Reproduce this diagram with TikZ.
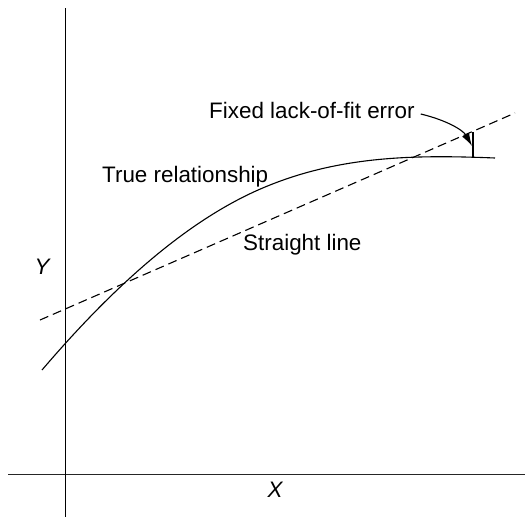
\documentclass[tikz,border=0pt]{standalone}
\usepackage{fontspec}
\setmainfont{Liberation Sans}
\usetikzlibrary{arrows.meta}
\begin{document}
\begin{tikzpicture}[x=1pt,y=-1pt,
  axisline/.style={line width=1.3pt,black!85},
  curveline/.style={line width=1.1pt},
  dashline/.style={line width=1.1pt,dash pattern=on 9pt off 5pt},
  lbl/.style={font=\fontsize{22.4}{25}\selectfont,inner sep=0pt,anchor=base west},
  axlbl/.style={font=\fontsize{22.4}{25}\selectfont\itshape,inner sep=0pt}]
\useasboundingbox (0,0) rectangle (525,517);
% axes
\coordinate (xl) at (8,474.5);
\coordinate (xr) at (525,474.5);
\coordinate (yt) at (65.5,8);
\coordinate (yb) at (65.5,517);
\draw[axisline] (xl) -- (xr);
\draw[line width=1.2pt] (yt) -- (yb);
\node[axlbl] (Xlab) at (275,490) {X};
\node[axlbl] (Ylab) at (42,267) {Y};
% straight line
\coordinate (s1) at (40,320);
\coordinate (s2) at (515,113);
\draw[dashline] (s1) -- (s2);
% true relationship
\coordinate (c0) at (42,370);
\coordinate (c1) at (270,185);
\coordinate (c2) at (495,158);
\draw[curveline] (c0) .. controls (118,281) and (194,215) .. (c1)
  .. controls (345,155) and (420,155) .. (c2);
% error tick
\coordinate (e1) at (473,157);
\coordinate (e2) at (473,131.5);
\draw[curveline] (e1) -- (e2);
% labels
\node[lbl] (true) at (102,182) {True relationship};
\node[lbl] (str) at (243,250) {Straight line};
\node[lbl] (fix) at (209,118) {Fixed lack-of-fit error};
\coordinate (atip) at (472,146);
\draw[curveline,-{Latex[length=13pt,width=8pt]}] ([xshift=6pt,yshift=4pt]fix.base east) .. controls (446,120) and (463,130) .. (atip);
\end{tikzpicture}
\end{document}
